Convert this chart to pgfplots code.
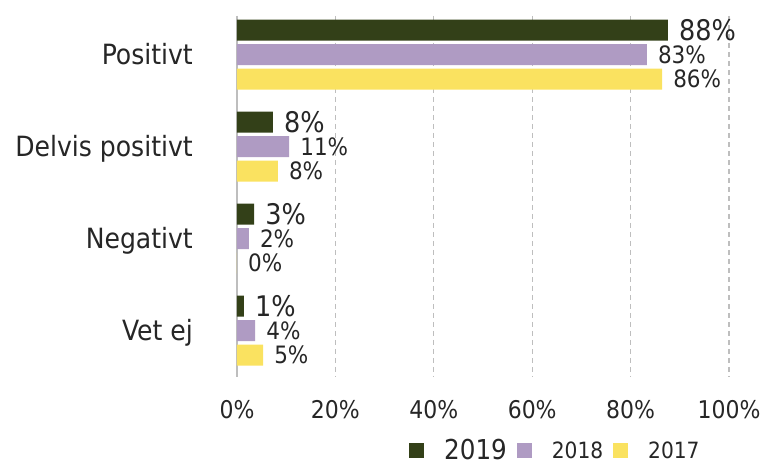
\documentclass[border=0pt]{standalone}
\usepackage{fontspec}
\setmainfont{DejaVu Sans Condensed}
\usepackage{pgfplots}
\pgfplotsset{compat=1.18}
\definecolor{c19}{RGB}{51,64,24}
\definecolor{c18}{RGB}{175,155,195}
\definecolor{c17}{RGB}{250,226,96}
\definecolor{txt}{RGB}{38,38,38}
\definecolor{gridc}{RGB}{190,190,190}
\begin{document}
\begin{tikzpicture}
\begin{axis}[
  at={(0,0)}, anchor=south west,
  scale only axis, width=492bp, height=360.6bp,
  xbar, bar width=21bp,
  xmin=0, xmax=100,
  ymin=-0.42, ymax=3.5, y dir=reverse,
  axis lines*=left,
  x axis line style={draw=none},
  y axis line style={draw=gridc, line width=1.2bp},
  major tick length=0pt,
  ytick={0,1,2,3},
  yticklabels={Positivt,Delvis positivt,Negativt,Vet ej},
  yticklabel style={anchor=base east, inner sep=0pt, xshift=-44bp, yshift=-10bp, font=\fontsize{28}{28}\selectfont, color=txt},
  xtick={0,20,40,60,80,100},
  xticklabels={0\%,20\%,40\%,60\%,80\%,100\%},
  xticklabel style={anchor=base, inner sep=0pt, yshift=-42bp, font=\fontsize{24.5}{24.5}\selectfont, color=txt},
  xmajorgrids,
  major x grid style={draw=gridc, line width=1.2bp, dash pattern=on 5bp off 4bp},
  point meta=explicit symbolic,
  nodes near coords,
  every node near coord/.append style={anchor=west, inner sep=0pt, xshift=11bp, color=txt},
  legend columns=3,
  legend style={draw=none, fill=none, at={(0.645,-0.205)}, anchor=center, inner sep=0pt,
    nodes={inner sep=0pt},
    /tikz/every even column/.append style={column sep=10bp},
    /tikz/every odd column/.append style={column sep=20bp},
    font=\fontsize{22.5}{22.5}\selectfont, text=txt},
  legend image code/.code={\fill[#1] (0bp,-7.5bp) rectangle (15bp,7.5bp);},
]
\addplot[fill=c19, draw=none, bar shift=24.5bp,
  every node near coord/.append style={font=\fontsize{28.5}{28.5}\selectfont}]
  coordinates {(87.6,0)[88\%] (7.3,1)[8\%] (3.5,2)[3\%] (1.4,3)[1\%]};
\addplot[fill=c18, draw=none, bar shift=0bp,
  every node near coord/.append style={font=\fontsize{24}{24}\selectfont}]
  coordinates {(83.3,0)[83\%] (10.6,1)[11\%] (2.4,2)[2\%] (3.7,3)[4\%]};
\addplot[fill=c17, draw=none, bar shift=-24.5bp,
  every node near coord/.append style={font=\fontsize{24}{24}\selectfont}]
  coordinates {(86.4,0)[86\%] (8.3,1)[8\%] (0,2)[0\%] (5.3,3)[5\%]};
\legend{{\fontsize{27.5}{27.5}\selectfont 2019},2018,2017}
\end{axis}
\pgfresetboundingbox
\path (-237bp,-89.5bp) rectangle (528bp,376.5bp);
\end{tikzpicture}
\end{document}
